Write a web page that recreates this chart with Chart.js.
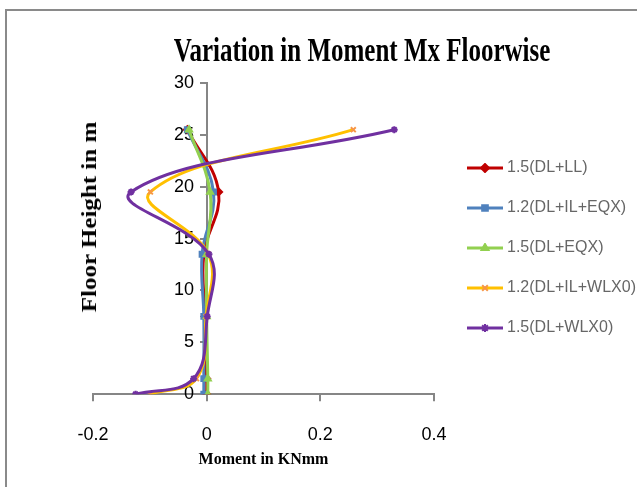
<!DOCTYPE html>
<html lang="en">
<head>
  <meta charset="UTF-8">
  <title>Variation in Moment Mx Floorwise</title>
  <script src="https://cdn.jsdelivr.net/npm/chart.js"></script>
  <style>
    html, body {
      margin: 0;
      overflow: hidden;
      background: #fff;
    }
    .frame {
      position: absolute;
      left: 5px;
      top: 9px;
      width: 700px;
      height: 600px;
      border-left: 2px solid #8a8a8a;
      border-top: 2px solid #8a8a8a;
    }
    .chart-title {
      position: absolute;
      left: 362px;
      top: 30px;
      white-space: nowrap;
      font-family: 'Liberation Serif', serif;
      font-weight: bold;
      font-size: 34px;
      line-height: 40px;
      transform: translateX(-50%) scaleX(0.735);
      color: #000;
    }
    .y-title {
      position: absolute;
      left: 89px;
      top: 217px;
      white-space: nowrap;
      font-family: 'Liberation Serif', serif;
      font-weight: bold;
      font-size: 20px;
      line-height: 22px;
      transform: translate(-50%, -50%) rotate(-90deg) scaleX(1.25);
      color: #000;
    }
    .wrap {
      position: absolute;
      left: 0;
      top: 0;
      width: 637px;
      height: 487px;
    }
  </style>
</head>
<body>

  <div class="frame"></div>
  <div class="wrap"><canvas id="momentChart"></canvas></div>
  <div class="chart-title">Variation in Moment Mx Floorwise</div>
  <div class="y-title">Floor Height in m</div>

  <script>
    // floor heights (m) and moment values (KNmm) per load combination
    const heights = [0, 1.5, 7.5, 13.5, 19.5, 25.5];
    const seriesNames = ['1.5(DL+LL)', '1.2(DL+IL+EQX)', '1.5(DL+EQX)', '1.2(DL+IL+WLX0)', '1.5(DL+WLX0)'];
    const dlLL = [0, 0, -0.003, -0.005, 0.021, -0.034];
    const dlIlEqx = [-0.005, -0.005, -0.005, -0.008, 0.012, -0.034];
    const dlEqx = [0.002, 0.002, 0.0, 0.0, 0.006, -0.031];
    const dlIlWlx = [-0.1, -0.018, -0.001, 0.003, -0.099, 0.258];
    const dlWlx = [-0.125, -0.023, 0.001, 0.004, -0.133, 0.33];
    const xTicks = [-0.2, 0, 0.2, 0.4];

    const seriesValues = [dlLL, dlIlEqx, dlEqx, dlIlWlx, dlWlx];
    const lineColors = ['#C00000', '#4F81BD', '#92D050', '#FFC000', '#7030A0'];
    const markerColors = ['#C00000', '#4F81BD', '#92D050', '#F79646', '#7030A0'];
    const markerStyles = ['rectRot', 'rect', 'triangle', 'crossRot', 'star'];

    const tickFont = { family: "'Liberation Sans', Arial, sans-serif", size: 18 };

    // line + marker images for the legend (transparent strip on the left as offset)
    function legendImage(i) {
      const c = document.createElement('canvas');
      c.width = 49;
      c.height = 10;
      const ctx = c.getContext('2d');
      ctx.strokeStyle = lineColors[i];
      ctx.lineWidth = 3;
      ctx.beginPath();
      ctx.moveTo(13, 5);
      ctx.lineTo(49, 5);
      ctx.stroke();
      ctx.fillStyle = markerColors[i];
      ctx.strokeStyle = markerColors[i];
      ctx.lineWidth = 2;
      Chart.helpers.drawPoint(ctx, { pointStyle: markerStyles[i], radius: 4, rotation: 0, borderWidth: 2 }, 31, 5);
      return c;
    }

    const datasets = seriesNames.map((name, i) => ({
      label: name,
      data: heights.map((h, k) => ({ x: seriesValues[i][k], y: h })),
      order: seriesNames.length - i,
      showLine: true,
      tension: 0.4,
      borderColor: lineColors[i],
      borderWidth: 3,
      pointStyle: markerStyles[i],
      pointRadius: 3.5,
      pointBorderWidth: 2,
      pointBackgroundColor: markerColors[i],
      pointBorderColor: markerColors[i]
    }));

    const legendImages = seriesNames.map((n, i) => legendImage(i));

    new Chart(document.getElementById('momentChart'), {
      type: 'scatter',
      data: { datasets: datasets },
      options: {
        responsive: true,
        maintainAspectRatio: false,
        animation: false,
        layout: {
          padding: { top: 83, right: 0, bottom: 18, left: 93 }
        },
        plugins: {
          title: { display: false },
          tooltip: { enabled: false },
          legend: {
            position: 'right',
            align: 'start',
            maxWidth: 203,
            title: { display: true, text: '', font: { size: 12 }, padding: { top: 38.6, bottom: 0 } },
            labels: {
              usePointStyle: true,
              pointStyleWidth: 41,
              color: '#000',
              padding: 24,
              font: { family: "'Liberation Sans', Arial, sans-serif", size: 16 },
              generateLabels: chart => chart.data.datasets.map((ds, i) => ({
                text: ds.label,
                pointStyle: legendImages[i],
                fillStyle: lineColors[i],
                strokeStyle: lineColors[i],
                lineWidth: 0,
                datasetIndex: i
              }))
            }
          }
        },
        scales: {
          x: {
            type: 'linear',
            min: -0.2,
            max: 0.4,
            afterBuildTicks: axis => { axis.ticks = xTicks.map(v => ({ value: v })); },
            grid: { drawOnChartArea: false, color: '#868686', tickLength: 7, lineWidth: 2 },
            border: { color: '#868686', width: 2 },
            ticks: {
              color: '#000',
              padding: 23,
              font: tickFont
            },
            title: {
              display: true,
              text: 'Moment in KNmm',
              color: '#000',
              padding: { top: -19, bottom: 0 },
              font: { family: "'Liberation Serif', serif", size: 16, weight: 'bold' }
            }
          },
          y: {
            type: 'linear',
            min: 0,
            max: 30,
            position: { x: 0 },
            grid: { drawOnChartArea: false, color: '#868686', tickLength: 6, lineWidth: 2 },
            border: { color: '#868686', width: 2 },
            ticks: {
              stepSize: 5,
              color: '#000',
              font: tickFont,
              // keep the labels clear of the tick marks on the left of the axis
              callback: v => v + '\u2002\u2009'
            }
          }
        }
      }
    });
  </script>

</body>
</html>
